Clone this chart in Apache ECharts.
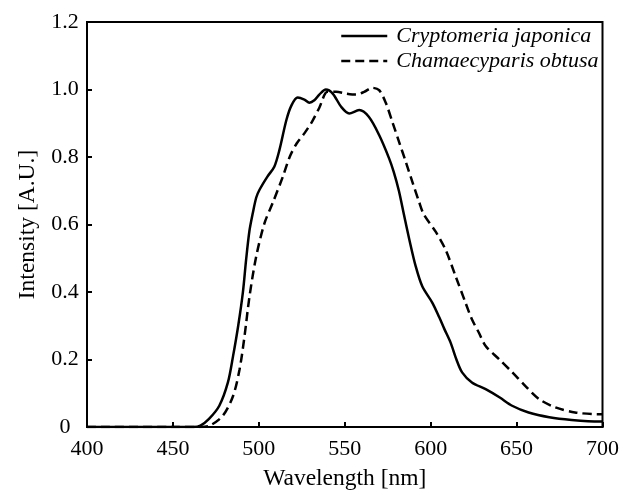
<!DOCTYPE html>
<html lang="en">
<head>
    <meta charset="UTF-8">
    <title>Intensity spectra</title>
    <style>
        html, body { margin: 0; padding: 0; background: #fff; }
        #main { width: 622px; height: 496px; }
    </style>
</head>
<body>
<div id="main"></div>
<script src="https://cdn.jsdelivr.net/npm/echarts@6/dist/echarts.min.js"></script>
<script type="text/javascript">
    // 数据
    var seriesNames = ['Cryptomeria japonica', 'Chamaecyparis obtusa'];
    var xTicks = [400, 450, 500, 550, 600, 650, 700];
    var yTicks = [0, 0.2, 0.4, 0.6, 0.8, 1.0, 1.2];

    var cjWave = [400, 450, 462, 466, 471, 477, 482, 485, 488, 490.7, 492.6, 494.5, 496.5, 498.5, 500.4,
        505, 509, 512, 516, 519, 522.6, 526.5, 529.4, 532.3, 535.2, 539, 543, 548, 552.6, 558.4, 564,
        570, 575.8, 578.5, 581.5, 584.5, 587.6, 591.3, 595.1, 601, 605, 608, 611.6, 615, 618.3, 624, 632,
        640, 647.4, 657, 669, 682, 698, 700];
    var cjValue = [0, 0, 0, 0.004, 0.024, 0.063, 0.132, 0.21, 0.3, 0.398, 0.496, 0.58, 0.634, 0.68, 0.703,
        0.742, 0.771, 0.821, 0.909, 0.953, 0.976, 0.97, 0.961, 0.968, 0.985, 1.0, 0.988, 0.948, 0.929, 0.939, 0.919,
        0.865, 0.796, 0.756, 0.7, 0.628, 0.555, 0.476, 0.417, 0.368, 0.325, 0.29, 0.25, 0.2, 0.162, 0.132, 0.112,
        0.088, 0.063, 0.043, 0.029, 0.021, 0.016, 0.016];

    var coWave = [400, 450, 466, 471.4, 479, 485, 488.8, 491.7, 494.6, 498.5, 503.3, 508, 514, 518, 522,
        526.5, 531, 535.2, 540, 545, 550.7, 556.5, 561.3, 566, 570, 574, 577.7, 581.6, 585.5, 589.3,
        593.2, 596, 603, 608.7, 614.5, 620.3, 624, 628, 632, 640, 647.5, 655, 663, 672.6, 684, 698, 700];
    var coValue = [0, 0, 0, 0.004, 0.033, 0.092, 0.171, 0.27, 0.388, 0.506, 0.604, 0.663, 0.742, 0.801, 0.84,
        0.87, 0.905, 0.946, 0.993, 0.993, 0.988, 0.985, 0.993, 1.005, 0.998, 0.959, 0.904, 0.845, 0.786, 0.727,
        0.668, 0.63, 0.578, 0.525, 0.447, 0.368, 0.319, 0.28, 0.24, 0.2, 0.162, 0.122, 0.083, 0.058, 0.043, 0.038, 0.038];

    function pairs(xs, ys) {
        var out = [];
        for (var i = 0; i < xs.length; i++) {
            out.push([xs[i], ys[i]]);
        }
        return out;
    }

    var font = '"Liberation Serif", "DejaVu Serif", serif';
    var myChart = echarts.init(document.getElementById('main'));

    var option = {
        animation: false,
        backgroundColor: '#fff',
        grid: {
            left: 87, right: 18, top: 22, bottom: 68,
            show: true, borderColor: '#000', borderWidth: 2
        },
        legend: {
            orient: 'vertical',
            left: 340, top: 25, padding: 0,
            itemWidth: 46, itemHeight: 14, itemGap: 3,
            itemStyle: { opacity: 0 }, // 图例只画线
            lineStyle: { width: 2.5 },
            data: seriesNames,
            textStyle: {
                fontFamily: font, fontStyle: 'italic', fontSize: 22, lineHeight: 20,
                color: '#000', padding: [0, 0, 0, 4]
            }
        },
        xAxis: {
            type: 'value',
            min: 400, max: 700, interval: 50,
            name: 'Wavelength [nm]',
            nameLocation: 'middle',
            nameGap: 40,
            nameTextStyle: { fontFamily: font, fontSize: 23.5, color: '#000' },
            splitLine: { show: false }, //去除网格线
            axisLine: { lineStyle: { color: '#000', width: 2 } },
            axisTick: { inside: true, length: 5, lineStyle: { color: '#000', width: 2 } },
            axisLabel: {
                margin: 11, fontFamily: font, fontSize: 22, color: '#000',
                formatter: function (v) { return xTicks.indexOf(v) >= 0 ? String(v) : ''; }
            }
        },
        yAxis: {
            type: 'value',
            min: 0, max: 1.2, interval: 0.2,
            name: 'Intensity [A.U.]',
            nameLocation: 'middle',
            nameGap: 47,
            nameTextStyle: { fontFamily: font, fontSize: 23.5, color: '#000' },
            splitLine: { show: false },
            axisLine: { lineStyle: { color: '#000', width: 2 } },
            axisTick: { inside: true, length: 5, lineStyle: { color: '#000', width: 2 } },
            axisLabel: {
                margin: 22, align: 'center', fontFamily: font, fontSize: 22, color: '#000',
                formatter: function (v) {
                    var t = Math.round(v * 10) / 10;
                    return t === 0 ? '0' : t.toFixed(1);
                }
            }
        },
        series: [{
            name: seriesNames[0],
            type: 'line',
            symbol: 'none', //去掉圆点
            smooth: 0.3,
            color: '#000',
            lineStyle: { color: '#000', width: 2.5, type: 'solid' },
            data: pairs(cjWave, cjValue)
        }, {
            name: seriesNames[1],
            type: 'line',
            symbol: 'none',
            smooth: 0.3,
            color: '#000',
            lineStyle: { color: '#000', width: 2.5, type: [9, 5] }, // 虚线
            data: pairs(coWave, coValue)
        }]
    };

    myChart.setOption(option);
</script>
</body>
</html>
